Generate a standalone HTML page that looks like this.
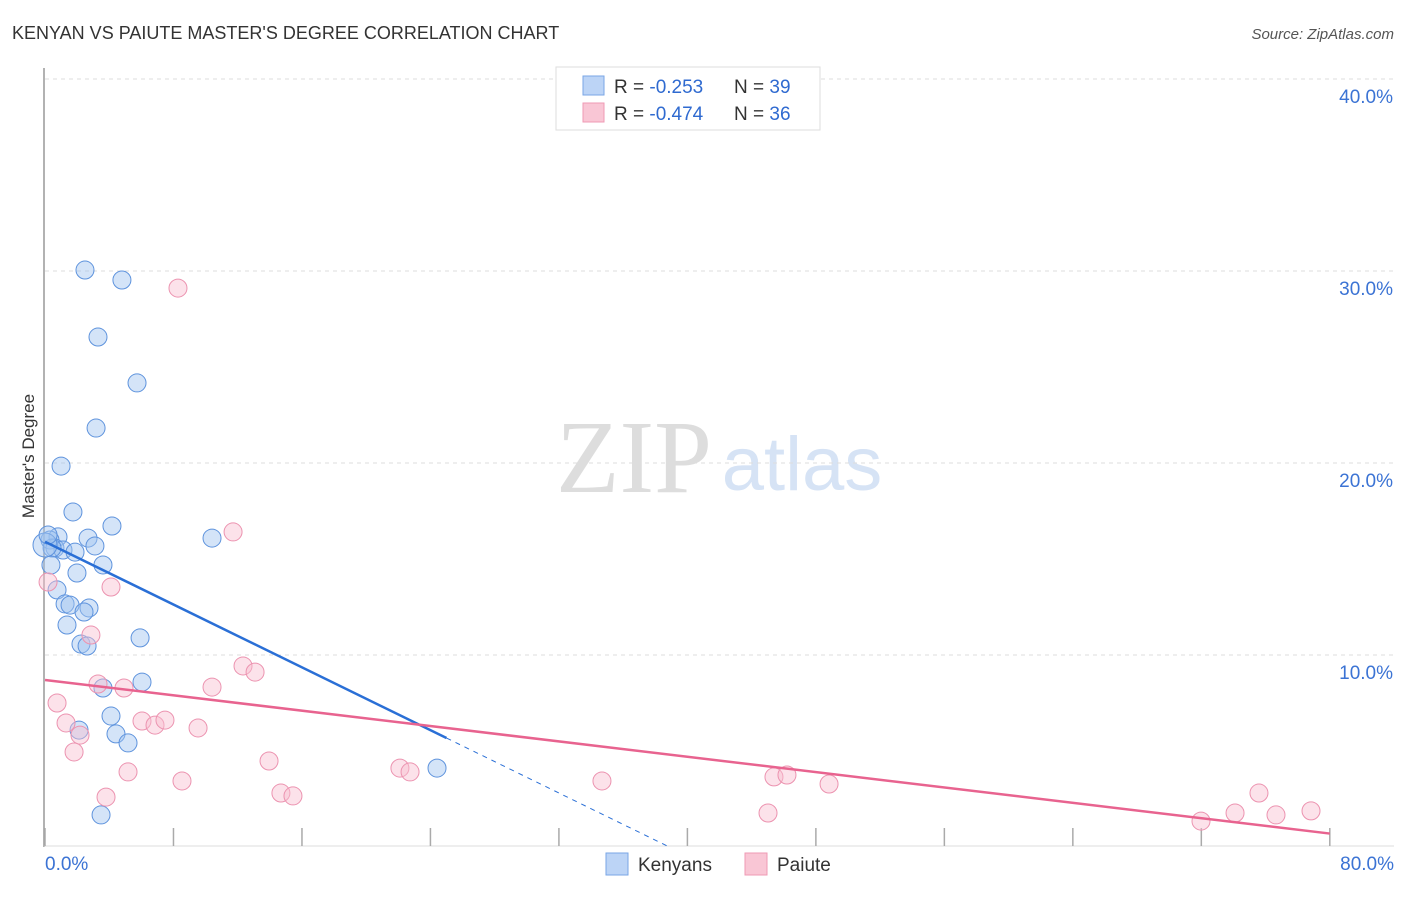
<!DOCTYPE html>
<html><head><meta charset="utf-8"><style>
body{margin:0;background:#fff;font-family:"Liberation Sans",sans-serif;}
svg text{font-family:"Liberation Sans",sans-serif;}
</style></head><body>
<svg id="chart" width="1406" height="892">
<text x="12" y="39" font-size="18" fill="#333">KENYAN VS PAIUTE MASTER'S DEGREE CORRELATION CHART</text>
<text x="1394" y="39" font-size="15" font-style="italic" fill="#555" text-anchor="end">Source: ZipAtlas.com</text>
<text x="0" y="0" transform="translate(34,456) rotate(-90)" font-size="17" fill="#333" text-anchor="middle">Master's Degree</text>
<text x="634" y="492" font-size="104" fill="#ddd" text-anchor="middle" style="font-family:'Liberation Serif',serif">ZIP</text>
<text x="802" y="490" font-size="76" fill="#d6e3f5" text-anchor="middle">atlas</text>
<g id="grid"></g><g id="axes"></g><g id="pts"></g><g id="trends"></g>
<g>
<rect x="556" y="67" width="264" height="63" fill="#fff" stroke="#ddd"/>
<rect x="583" y="76" width="21" height="19" fill="#bcd4f6" stroke="#7aa6e6"/>
<rect x="583" y="103" width="21" height="19" fill="#f9c6d5" stroke="#ef9ab4"/>
<text x="614" y="93" font-size="19" fill="#333">R = <tspan fill="#2f6ad0">-0.253</tspan></text>
<text x="734" y="93" font-size="19" fill="#333">N = <tspan fill="#2f6ad0">39</tspan></text>
<text x="614" y="120" font-size="19" fill="#333">R = <tspan fill="#2f6ad0">-0.474</tspan></text>
<text x="734" y="120" font-size="19" fill="#333">N = <tspan fill="#2f6ad0">36</tspan></text>
</g>
<rect x="606" y="853" width="22" height="22" fill="#bcd4f6" stroke="#7aa6e6"/>
<text x="638" y="871" font-size="19" fill="#333">Kenyans</text>
<rect x="745" y="853" width="22" height="22" fill="#f9c6d5" stroke="#ef9ab4"/>
<text x="777" y="871" font-size="19" fill="#333">Paiute</text>
</svg>
<script>
const yTicks=[10,20,30,40];
const yTickLabels=["10.0%","20.0%","30.0%","40.0%"];
const xTicks=[0,8,16,24,32,40,48,56,64,72,80];
const kenX=[2.49,4.79,3.30,5.73,3.18,1.00,1.74,4.17,2.68,0.81,0.31,0.62,1.12,1.87,3.11,0.44,3.61,0.37,1.99,0.75,1.25,1.56,2.74,2.43,1.37,2.24,2.62,5.92,10.40,6.04,3.61,4.11,4.42,5.17,2.12,24.41,3.49,0.0,0.19];
const kenY=[30.05,29.53,26.56,24.17,21.82,19.84,17.45,16.72,16.09,16.15,15.99,15.57,15.47,15.36,15.68,15.57,14.69,14.69,14.27,13.39,12.66,12.60,12.45,12.24,11.56,10.57,10.47,10.89,16.09,8.59,8.28,6.82,5.89,5.42,6.09,4.11,1.67,15.73,16.25];
const paiX=[8.28,11.71,0.19,4.11,2.86,12.33,13.08,3.30,4.92,10.40,0.75,1.31,9.53,6.04,6.85,7.47,2.18,1.81,5.17,8.53,13.95,3.80,14.69,15.44,22.10,22.73,34.68,45.39,46.20,48.82,45.02,75.59,74.10,71.98,76.65,78.83];
const paiY=[29.11,16.41,13.80,13.54,11.04,9.43,9.11,8.49,8.28,8.33,7.50,6.46,6.20,6.56,6.35,6.61,5.83,4.95,3.91,3.44,4.48,2.60,2.81,2.66,4.11,3.91,3.44,3.65,3.75,3.28,1.77,2.81,1.77,1.35,1.67,1.88];
const kenTrend=[15.9,-0.409]; // intercept, slope
const paiTrend=[8.7,-0.1];
const X=v=>45+v*16.06, Y=v=>847-v*19.2;
const NS="http://www.w3.org/2000/svg";
function mk(p,t,a){const e=document.createElementNS(NS,t);for(const k in a)e.setAttribute(k,a[k]);p.appendChild(e);return e;}
const grid=document.getElementById('grid'),axes=document.getElementById('axes'),pts=document.getElementById('pts'),tr=document.getElementById('trends');
yTicks.forEach((t,i)=>{
 const l=mk(grid,'line',{x1:45,x2:1394,y1:Y(t),y2:Y(t),stroke:'#ddd','stroke-dasharray':'4,4'});
 
 
 const tx=mk(grid,'text',{x:1393,y:Y(t)+24,'font-size':19,fill:'#3b73d4','text-anchor':'end'});tx.textContent=yTickLabels[i];
 
 
});
const ax=mk(axes,'line',{x1:44,x2:44,y1:68,y2:847,stroke:'#999','stroke-width':1.5});


const bx=mk(axes,'line',{x1:44,x2:1394,y1:846,y2:846,stroke:'#ddd'});


xTicks.forEach(t=>{const l=mk(axes,'line',{x1:X(t),x2:X(t),y1:828,y2:846,stroke:'#aaa','stroke-width':1.5});
 
 });
const x0=mk(axes,'text',{x:45,y:870,'font-size':19,fill:'#3b73d4'});x0.textContent='0.0%';


const x1=mk(axes,'text',{x:1394,y:870,'font-size':19,fill:'#3b73d4','text-anchor':'end'});x1.textContent='80.0%';


kenX.forEach((v,i)=>{const c=mk(pts,'circle',{cx:X(v),cy:Y(kenY[i]),r:i==37?12:9,fill:'rgba(160,196,240,0.45)',stroke:'#5e93dd','stroke-width':1});
 
 });
paiX.forEach((v,i)=>{const c=mk(pts,'circle',{cx:X(v),cy:Y(paiY[i]),r:9,fill:'rgba(248,190,208,0.45)',stroke:'#ec93b0','stroke-width':1});
 
 });
const kf=v=>kenTrend[0]+kenTrend[1]*v, pf=v=>paiTrend[0]+paiTrend[1]*v;
const k1=mk(tr,'line',{x1:X(0),y1:Y(kf(0)),x2:X(25),y2:Y(kf(25)),stroke:'#2a6fd6','stroke-width':2.5});


const k2=mk(tr,'line',{x1:X(25),y1:Y(kf(25)),x2:X(38.8),y2:Y(kf(38.8)),stroke:'#2a6fd6','stroke-width':1,'stroke-dasharray':'5,5'});


const p1=mk(tr,'line',{x1:X(0),y1:Y(pf(0)),x2:X(80),y2:Y(pf(80)),stroke:'#e8638f','stroke-width':2.5});


</script>
</body></html>
